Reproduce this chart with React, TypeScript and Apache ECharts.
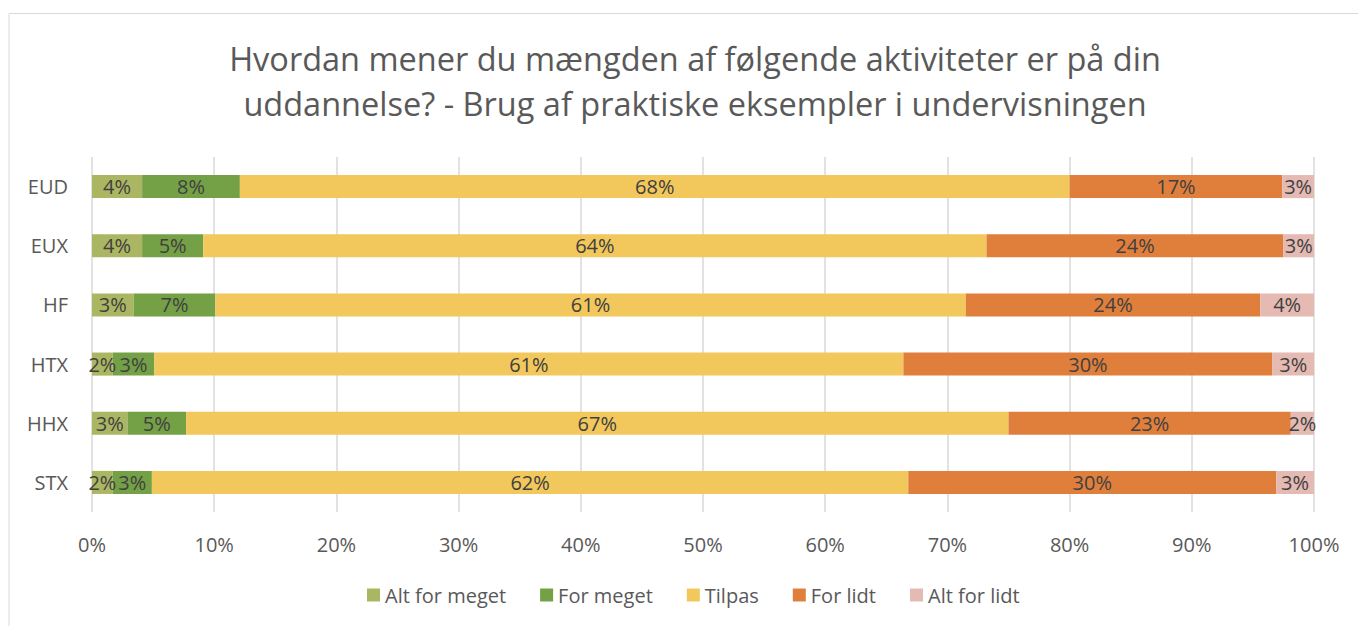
import React, { useEffect, useRef } from "react";
import * as echarts from "echarts";

const categories = ["EUD", "EUX", "HF", "HTX", "HHX", "STX"];
const seriesNames = ["Alt for meget", "For meget", "Tilpas", "For lidt", "Alt for lidt"];
const altForMeget = [4.1, 4.1, 3.4, 1.7, 2.9, 1.7];
const forMeget = [8.0, 5.0, 6.7, 3.4, 4.8, 3.2];
const tilpas = [67.9, 64.1, 61.4, 61.3, 67.3, 61.9];
const forLidt = [17.4, 24.3, 24.1, 30.2, 23.1, 30.1];
const altForLidt = [2.6, 2.5, 4.4, 3.4, 1.9, 3.1];
const colors = ["#abb662", "#74a046", "#f2c75c", "#e07f3c", "#e4bab3"];
const titleLines = [
  "Hvordan mener du mængden af følgende aktiviteter er på din",
  "uddannelse? - Brug af praktiske eksempler i undervisningen",
];

const FONT = "'Open Sans', 'Noto Sans', sans-serif";

export default function App() {
  const ref = useRef<HTMLDivElement>(null);
  useEffect(() => {
    document.body.style.margin = "0";
    const chart = echarts.init(ref.current!, null, { renderer: "svg" });
    const data = [altForMeget, forMeget, tilpas, forLidt, altForLidt];
    chart.setOption({
      animation: false,
      backgroundColor: "#ffffff",
      title: {
        text: titleLines.join("\n"),
        left: 690,
        textAlign: "center",
        top: 31,
        textStyle: {
          fontFamily: FONT,
          fontSize: 32.5,
          fontWeight: "normal",
          color: "#595959",
          lineHeight: 45,
        },
      },
      graphic: [
        {
          type: "rect",
          shape: { x: 9, y: 13.5, width: 1400, height: 700 },
          style: { fill: "none", stroke: "#d9d9d9", lineWidth: 1 },
          silent: true,
        },
      ],
      legend: {
        data: seriesNames,
        top: 580,
        left: 362,
        itemWidth: 13,
        itemHeight: 13,
        itemGap: 34,
        icon: "rect",
        textStyle: { fontFamily: FONT, fontSize: 20, color: "#595959" },
      },
      grid: { left: 92, right: 44, top: 157, height: 355, containLabel: false },
      xAxis: {
        type: "value",
        min: 0,
        max: 100,
        interval: 10,
        axisLabel: {
          formatter: "{value}%",
          fontFamily: FONT,
          fontSize: 20,
          color: "#595959",
          margin: 22,
        },
        axisLine: { show: false },
        axisTick: { show: false },
        splitLine: { show: true, lineStyle: { color: "#d9d9d9", width: 1.5 } },
      },
      yAxis: {
        type: "category",
        data: categories,
        inverse: true,
        axisLabel: { fontFamily: FONT, fontSize: 20, color: "#595959", margin: 24 },
        axisLine: { show: false },
        axisTick: { show: false },
      },
      series: seriesNames.map((name, i) => ({
        name,
        type: "bar",
        stack: "total",
        barCategoryGap: "61%",
        itemStyle: { color: colors[i] },
        label: {
          show: true,
          position: "inside",
          formatter: (p: any) => Math.round(p.value) + "%",
          fontFamily: FONT,
          fontSize: 20,
          color: "#404040",
        },
        data: data[i],
      })),
    });
    return () => chart.dispose();
  }, []);
  return (
    <div
      ref={ref}
      style={{ position: "absolute", left: 0, top: 0, width: 1358, height: 626 }}
    />
  );
}
